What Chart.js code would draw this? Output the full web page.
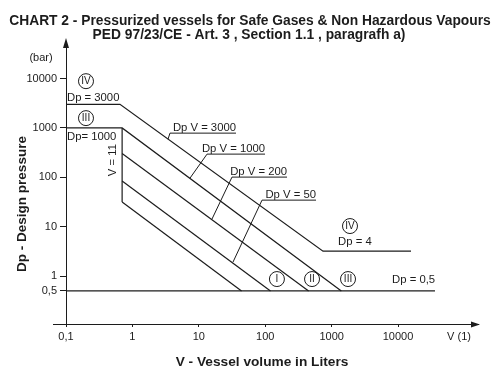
<!DOCTYPE html>
<html><head><meta charset="utf-8">
<script src="https://cdn.jsdelivr.net/npm/chart.js@4.4.1/dist/chart.umd.min.js"></script>
<style>html,body{margin:0;padding:0;background:#fff}#wrap{width:500px;height:375px;position:relative}</style>
</head><body><div id="wrap"><canvas id="c" width="500" height="375"></canvas></div>
<script>
// ---- tick labels ----
const xTickValues = [0.1, 1, 10, 100, 1000, 10000];
const xTickLabels = ['0,1', '1', '10', '100', '1000', '10000'];
const yTickValues = [0.5, 1, 10, 100, 1000, 10000];
const yTickLabels = ['0,5', '1', '10', '100', '1000', '10000'];

// ---- boundary lines: V (litres) and Dp (bar) ----
const cat4V = [0.1, 0.65, 742, 15700];
const cat4P = [3000, 3000, 3.2, 3.2];
const cat3V = [0.1, 0.7, 1400];
const cat3P = [1000, 1000, 0.5];
const vOneV = [0.7, 0.7];
const vOneP = [1000, 31.5];
const cat2V = [0.7, 450];
const cat2P = [305, 0.5];
const cat1V = [0.7, 120];
const cat1P = [84, 0.5];
const art3V = [0.7, 44];
const art3P = [31.5, 0.5];
const baseV = [0.1, 36000];
const baseP = [0.5, 0.5];

// ---- callout leader lines (underline end, underline start, tip) ----
const call3000V = [36.3, 3.68, 3.44];
const call3000P = [785, 785, 593];
const call1000V = [99.3, 13.3, 7.37];
const call1000P = [295, 295, 96.4];
const call200V = [213, 31.6, 15.8];
const call200P = [101, 101, 14.3];
const call50V = [582, 89.5, 32.7];
const call50P = [34.5, 34.5, 1.92];

const FONT = '"Liberation Sans", Arial, Helvetica, sans-serif';
const INK = '#1c1c1c';

function zip(vs, ps) { return vs.map((v, i) => ({x: v, y: ps[i]})); }
function ds(vs, ps, w) {
  return {data: zip(vs, ps), showLine: true, borderColor: INK, borderWidth: w, pointRadius: 0,
          pointHoverRadius: 0, fill: false, tension: 0};
}

const callouts = [
  {t: 'Dp V = 3000', V: call3000V, P: call3000P},
  {t: 'Dp V = 1000', V: call1000V, P: call1000P},
  {t: 'Dp V = 200', V: call200V, P: call200P},
  {t: 'Dp V = 50', V: call50V, P: call50P}
];

const deco = {
  id: 'deco',
  beforeDraw(chart) {
    const c = chart.ctx; c.save(); c.fillStyle = '#fff'; c.fillRect(0, 0, chart.width, chart.height); c.restore();
  },
  afterDraw(chart) {
    const {ctx, chartArea: a, scales: {x, y}} = chart;
    const px = v => x.getPixelForValue(v), py = p => y.getPixelForValue(p);
    ctx.save();
    ctx.fillStyle = INK; ctx.strokeStyle = INK; ctx.lineWidth = 1;
    // x axis extension to the left and arrows
    ctx.beginPath(); ctx.moveTo(53, a.bottom + 0.5); ctx.lineTo(a.left, a.bottom + 0.5); ctx.stroke();
    ctx.beginPath(); ctx.moveTo(a.right + 2, a.bottom + 0.5); ctx.lineTo(a.right - 7, a.bottom - 2.5);
    ctx.lineTo(a.right - 7, a.bottom + 3.5); ctx.closePath(); ctx.fill();
    ctx.beginPath(); ctx.moveTo(a.left, a.top - 4); ctx.lineTo(a.left - 3, a.top + 6);
    ctx.lineTo(a.left + 3, a.top + 6); ctx.closePath(); ctx.fill();

    // titles
    ctx.textAlign = 'center'; ctx.textBaseline = 'alphabetic';
    ctx.font = 'bold 13.8px ' + FONT;
    ctx.fillText('CHART 2 - Pressurized vessels for Safe Gases & Non Hazardous Vapours', 250, 25);
    ctx.fillText('PED 97/23/CE - Art. 3 , Section 1.1 , paragrafh a)', 249, 39);
    ctx.font = 'bold 13.7px ' + FONT;
    ctx.fillText('V - Vessel volume in Liters', 262, 366);
    ctx.save(); ctx.translate(26, 204); ctx.rotate(-Math.PI / 2);
    ctx.font = 'bold 13.5px ' + FONT; ctx.fillText('Dp - Design pressure', 0, 0); ctx.restore();

    ctx.font = '11px ' + FONT; ctx.textBaseline = 'middle';
    ctx.fillText('(bar)', 41, 57.5);
    ctx.fillText('V (1)', 459, 337);

    // inline labels
    ctx.textAlign = 'left'; ctx.font = '11.3px ' + FONT;
    [['Dp = 3000', 0.1035, 4010], ['Dp= 1000', 0.1035, 651], ['Dp = 4', 1250, 4.88], ['Dp = 0,5', 8130, 0.83]]
      .forEach(([t, v, p]) => ctx.fillText(t, px(v), py(p)));
    // rotated V = 1 label
    ctx.save(); ctx.translate(px(0.51), py(223)); ctx.rotate(-Math.PI / 2);
    ctx.textAlign = 'center'; ctx.fillText('V = 11', 0, 0); ctx.restore();

    // callout texts
    ctx.textAlign = 'right'; ctx.textBaseline = 'alphabetic';
    callouts.forEach(c => ctx.fillText(c.t, px(c.V[0]), py(c.P[0]) - 2.5));

    // circled category numerals
    ctx.textAlign = 'center'; ctx.textBaseline = 'middle'; ctx.font = '10px ' + FONT;
    [['IV', 0.2, 8850], ['III', 0.2, 1580], ['IV', 1890, 10.3], ['I', 150, 0.87], ['II', 507, 0.87], ['III', 1765, 0.87]]
      .forEach(([t, v, p]) => {
        const cx = px(v), cy = py(p);
        ctx.beginPath(); ctx.arc(cx, cy, 7.5, 0, Math.PI * 2); ctx.stroke();
        ctx.fillText(t, cx, cy + 0.5);
      });
    ctx.restore();
  }
};

new Chart(document.getElementById('c'), {
  type: 'scatter',
  data: {
    datasets: [
      ds(cat4V, cat4P, 1.2), ds(cat3V, cat3P, 1.2), ds(vOneV, vOneP, 1.2), ds(cat2V, cat2P, 1.2),
      ds(cat1V, cat1P, 1.2), ds(art3V, art3P, 1.2), ds(baseV, baseP, 1.2),
      ds(call3000V, call3000P, 1), ds(call1000V, call1000P, 1), ds(call200V, call200P, 1), ds(call50V, call50P, 1)
    ]
  },
  options: {
    responsive: false, animation: false, devicePixelRatio: 1,
    layout: {padding: {top: 42, right: 22, left: 0, bottom: 0}},
    plugins: {legend: {display: false}, tooltip: {enabled: false}, title: {display: false}},
    scales: {
      x: {
        type: 'logarithmic', min: 0.1, max: 160000, position: 'bottom',
        afterBuildTicks: s => { s.ticks = xTickValues.map(v => ({value: v})); },
        afterFit: s => { s.height = 51; },
        grid: {display: true, drawOnChartArea: false, drawTicks: true, tickLength: 3, tickColor: INK, color: INK},
        border: {display: true, color: INK, width: 1},
        ticks: {font: {family: FONT, size: 11}, color: INK, padding: 3, maxRotation: 0, autoSkip: false,
                callback: (v, i) => xTickLabels[i]}
      },
      y: {
        type: 'logarithmic', min: 0.107, max: 55000, position: 'left',
        afterBuildTicks: s => { s.ticks = yTickValues.map(v => ({value: v})); },
        afterFit: s => { s.width = 66; },
        grid: {display: true, drawOnChartArea: false, drawTicks: true, tickLength: 6, tickColor: INK, color: INK},
        border: {display: true, color: INK, width: 1},
        ticks: {font: {family: FONT, size: 11}, color: INK, padding: 3, autoSkip: false,
                callback: (v, i) => yTickLabels[i]}
      }
    }
  },
  plugins: [deco]
});
</script>
</body></html>
